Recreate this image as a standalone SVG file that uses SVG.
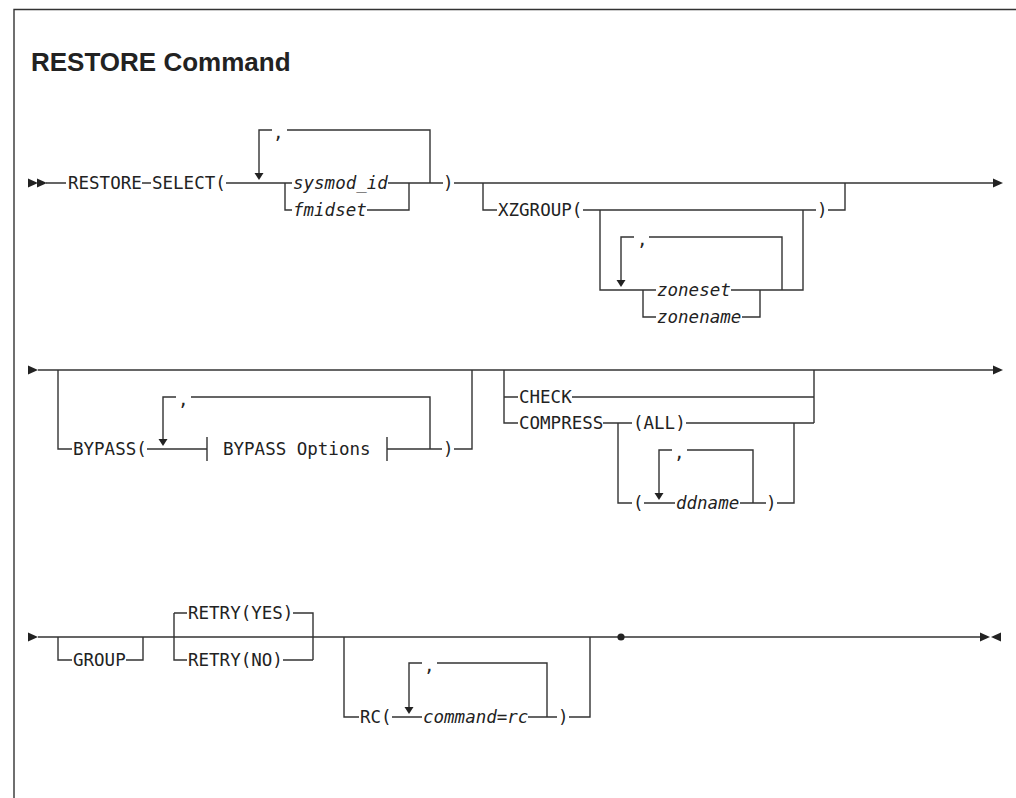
<svg xmlns="http://www.w3.org/2000/svg" xmlns:xlink="http://www.w3.org/1999/xlink" width="1016" height="798" viewBox="0 0 1016 798">
<style>
.l{fill:none;stroke:#333;stroke-width:1.4}
.f{fill:#222;stroke:none}
.t{font-family:"DejaVu Sans Mono","Liberation Mono",monospace;font-size:17.5px;fill:#222}
.i{font-style:italic}
.title{font-family:"Liberation Sans",Arial,sans-serif;font-weight:bold;font-size:26px;fill:#222}
</style>
<defs>
<polygon id="rt" points="0,-4.5 10,0 0,4.5" class="f"/>
<polygon id="lt" points="0,-4.5 -10,0 0,4.5" class="f"/>
<polygon id="dn" points="-4.5,-7 4.5,-7 0,0" class="f"/>
</defs>
<rect width="1016" height="798" fill="#fff"/>
<path class="l" d="M14 798 V9.5 H1016" stroke-width="1.6"/>
<g id="title"><text class="title" x="31" y="71">RESTORE Command</text></g>

<g id="connectors">
<!-- row 1 -->
<use xlink:href="#rt" x="28" y="183"/><use xlink:href="#rt" x="37" y="183"/>
<path class="l" d="M46 183 H66 M142 183 H151 M226 183 H292 M388 183 H443 M454 183 H993"/>
<use xlink:href="#rt" x="993" y="183"/>
<path class="l" d="M259 173 V130 H272 M287 130 H430 V183"/>
<use xlink:href="#dn" x="259" y="180"/>
<path class="l" d="M285 183 V210 H292 M367 210 H409 V183"/>
<path class="l" d="M483 183 V210 H497 M583 210 H816 M828 210 H845 V183"/>
<path class="l" d="M600 210 V290 H656 M731 290 H803 V210"/>
<path class="l" d="M621 280 V237 H634 M649 237 H782 V290"/>
<use xlink:href="#dn" x="621" y="287"/>
<path class="l" d="M643 290 V317 H656 M742 317 H760 V290"/>
<!-- row 2 -->
<use xlink:href="#rt" x="28" y="370"/>
<path class="l" d="M38 370 H993"/>
<use xlink:href="#rt" x="993" y="370"/>
<path class="l" d="M58 370 V449 H72 M147 449 H207 M207 437 V461 M387 437 V461 M387 449 H442 M454 449 H472 V370"/>
<path class="l" d="M163 439 V397 H176 M191 397 H430 V449"/>
<use xlink:href="#dn" x="163" y="446"/>
<path class="l" d="M504 370 V423 H518 M504 397 H518 M572 397 H814 V370 M814 423 V397 M603 423 H632 M686 423 H814"/>
<path class="l" d="M618 423 V503 H632 M644 503 H675 M740 503 H766 M777 503 H794 V423"/>
<path class="l" d="M659 493 V450 H672 M687 450 H753 V503"/>
<use xlink:href="#dn" x="659" y="500"/>
<!-- row 3 -->
<use xlink:href="#rt" x="28" y="637"/>
<path class="l" d="M38 637 H618 M624 637 H980"/>
<circle cx="621" cy="637" r="3.6" class="f"/>
<use xlink:href="#rt" x="980" y="637"/><use xlink:href="#lt" x="1001" y="637"/>
<path class="l" d="M58 637 V660 H72 M126 660 H143 V637"/>
<path class="l" d="M174 613 V660 H187 M174 613 H187 M293 613 H313 V660 M283 660 H313"/>
<path class="l" d="M344 637 V717 H359 M392 717 H422 M528 717 H557 M569 717 H590 V637"/>
<path class="l" d="M409 707 V663 H422 M437 663 H547 V717"/>
<use xlink:href="#dn" x="409" y="714"/>
</g>

<g id="n-restore"><text class="t" x="68" y="189">RESTORE</text></g>
<g id="n-select"><text class="t" x="152" y="189">SELECT(</text></g>
<g id="n-select-comma"><text class="t" x="273" y="139">,</text></g>
<g id="n-sysmod"><text class="t i" x="293" y="189">sysmod_id</text></g>
<g id="n-fmidset"><text class="t i" x="293" y="216">fmidset</text></g>
<g id="n-select-close"><text class="t" x="443" y="189">)</text></g>
<g id="n-xzgroup"><text class="t" x="498" y="216">XZGROUP(</text></g>
<g id="n-xz-comma"><text class="t" x="637" y="246">,</text></g>
<g id="n-zoneset"><text class="t i" x="657" y="296">zoneset</text></g>
<g id="n-zonename"><text class="t i" x="657" y="323">zonename</text></g>
<g id="n-xz-close"><text class="t" x="817" y="216">)</text></g>

<g id="n-bypass"><text class="t" x="73" y="455">BYPASS(</text></g>
<g id="n-bypass-comma"><text class="t" x="178" y="406">,</text></g>
<g id="n-bypass-options"><text class="t" x="223" y="455">BYPASS Options</text></g>
<g id="n-bypass-close"><text class="t" x="443" y="455">)</text></g>
<g id="n-check"><text class="t" x="519" y="403">CHECK</text></g>
<g id="n-compress"><text class="t" x="519" y="429">COMPRESS</text></g>
<g id="n-all"><text class="t" x="633" y="429">(ALL)</text></g>
<g id="n-dd-open"><text class="t" x="633" y="509">(</text></g>
<g id="n-dd-comma"><text class="t" x="674" y="459">,</text></g>
<g id="n-ddname"><text class="t i" x="676" y="509">ddname</text></g>
<g id="n-dd-close"><text class="t" x="766" y="509">)</text></g>

<g id="n-group"><text class="t" x="73" y="666">GROUP</text></g>
<g id="n-retry-yes"><text class="t" x="188" y="619">RETRY(YES)</text></g>
<g id="n-retry-no"><text class="t" x="188" y="666">RETRY(NO)</text></g>
<g id="n-rc"><text class="t" x="360" y="723">RC(</text></g>
<g id="n-rc-comma"><text class="t" x="424" y="672">,</text></g>
<g id="n-command"><text class="t i" x="423" y="723">command=rc</text></g>
<g id="n-rc-close"><text class="t" x="558" y="723">)</text></g>
</svg>
